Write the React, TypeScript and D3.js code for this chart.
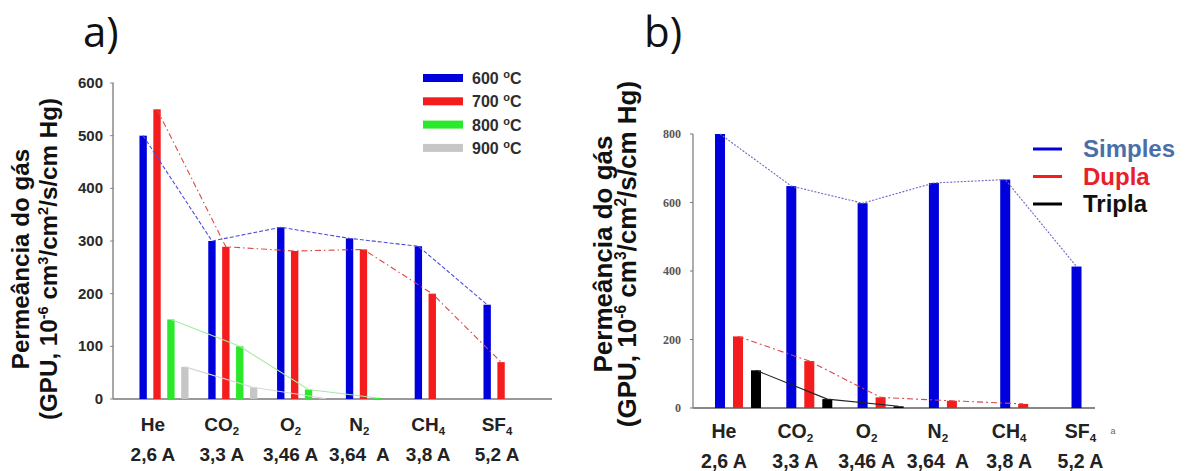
import React from "react";
import * as d3 from "d3";

// gases and kinetic diameters (shared by both panels)
const gases = ["He", "CO2", "O2", "N2", "CH4", "SF4"];
const diameters = ["2,6 A", "3,3 A", "3,46 A", "3,64  A", "3,8 A", "5,2 A"];

// panel a) - permeance by calcination temperature
const tempsA = ["600", "700", "800", "900"];
const perm600 = [500, 300, 326, 305, 290, 179];
const perm700 = [550, 289, 281, 284, 200, 70];
const perm800 = [151, 100, 18, 2, 0, 0];
const perm900 = [61, 22, 2, 0, 0, 0];
const ticksA = [0, 100, 200, 300, 400, 500, 600];

// panel b) - permeance by layer count
const layersB = ["Simples", "Dupla", "Tripla"];
const simples = [800, 648, 598, 657, 667, 413];
const dupla = [209, 137, 31, 21, 12, 0];
const tripla = [110, 26, 5, 0, 0, 0];
const ticksB = [0, 200, 400, 600, 800];

const colorsA = ["#0000dc", "#f41c1c", "#2ae82a", "#c6c6c6"];
const lineColorsA = ["#4d4de0", "#e04848", "#a4eaa4", "#d6d6d6"];
const dashA = ["4,2", "6,3,1.5,3", null, null];

const colorsB = ["#0000dc", "#f41c1c", "#000000"];
const lineColorsB = ["#6a6ac8", "#d84848", "#222222"];
const dashB = ["2,1.5", "6,3,2,3", null];
const legendTextB = ["#4a6fa8", "#e8202a", "#111111"];

const SANS = "'Liberation Sans', Arial, sans-serif";

function Formula({ name, size }: { name: string; size: number }) {
  const m = name.match(/^([A-Za-z]+)(\d*)$/);
  const base = m ? m[1] : name;
  const sub = m ? m[2] : "";
  return (
    <>
      {base}
      {sub && (
        <tspan fontSize={size * 0.6} dy={4}>
          {sub}
        </tspan>
      )}
    </>
  );
}

function YLabel({ x1, x2, cy, size }: { x1: number; x2: number; cy: number; size: number }) {
  const sup = size * 0.6;
  const up = -size * 0.38;
  return (
    <g fontFamily={SANS} fontWeight="bold" fontSize={size} fill="#111">
      <text transform={`translate(${x1},${cy}) rotate(-90)`} textAnchor="middle">
        Permeância do gás
      </text>
      <text transform={`translate(${x2},${cy}) rotate(-90)`} textAnchor="middle">
        (GPU, 10
        <tspan fontSize={sup} dy={up}>-6</tspan>
        <tspan dy={-up}> cm</tspan>
        <tspan fontSize={sup} dy={up}>3</tspan>
        <tspan dy={-up}>/cm</tspan>
        <tspan fontSize={sup} dy={up}>2</tspan>
        <tspan dy={-up}>/s/cm Hg)</tspan>
      </text>
    </g>
  );
}

function PanelA() {
  const series = [perm600, perm700, perm800, perm900];
  const y = d3.scaleLinear().domain([0, 600]).range([399, 83]);
  const x0 = d3.scaleBand().domain(gases).range([113, 559]).paddingInner(0.186).paddingOuter(0.334);
  const x1 = d3.scaleBand().domain(tempsA).range([0, x0.bandwidth()]).paddingInner(0.47).paddingOuter(0.25);
  const cx = (g: string, t: string) => (x0(g) as number) + (x1(t) as number) + x1.bandwidth() / 2;

  const line = d3
    .line<[number, number]>()
    .x((d) => d[0])
    .y((d) => d[1]);

  return (
    <g>
      <text x={83} y={47} fontFamily="'Open Sans', sans-serif" fontSize={42} fill="#111">
        a)
      </text>
      <YLabel x1={29} x2={57} cy={259} size={24.2} />

      {/* axes */}
      <line x1={113} x2={113} y1={y(600)} y2={y(0)} stroke="#8a8a8a" strokeWidth={1.5} />
      <line x1={113} x2={552} y1={y(0)} y2={y(0)} stroke="#999" strokeWidth={2} />
      {ticksA.map((t) => (
        <g key={t}>
          <line x1={110} x2={114} y1={y(t)} y2={y(t)} stroke="#8a8a8a" />
          <text x={103} y={y(t) + 5} textAnchor="end" fontFamily={SANS} fontWeight="bold" fontSize={15} fill="#2a2a2a">
            {t}
          </text>
        </g>
      ))}

      {/* bars */}
      {series.map((vals, si) =>
        vals.map((v, gi) =>
          v > 0 ? (
            <rect
              key={`${si}-${gi}`}
              x={(x0(gases[gi]) as number) + (x1(tempsA[si]) as number)}
              y={y(v)}
              width={x1.bandwidth()}
              height={y(0) - y(v)}
              fill={colorsA[si]}
            />
          ) : null
        )
      )}

      {/* trend lines */}
      {series.map((vals, si) => {
        const pts = vals
          .map((v, gi) => [cx(gases[gi], tempsA[si]), y(v), v] as [number, number, number])
          .filter((p) => p[2] > 0)
          .map((p) => [p[0], p[1]] as [number, number]);
        return (
          <path
            key={si}
            d={line(pts) || ""}
            fill="none"
            stroke={lineColorsA[si]}
            strokeWidth={1.1}
            strokeDasharray={dashA[si] || undefined}
          />
        );
      })}

      {/* x labels */}
      {gases.map((g, i) => (
        <g key={g} fontFamily={SANS} fontWeight="bold" fill="#222" textAnchor="middle">
          <text x={(x0(g) as number) + 17} y={431} fontSize={19}>
            <Formula name={g} size={19} />
          </text>
          <text x={(x0(g) as number) + 17} y={461} fontSize={19} style={{ whiteSpace: "pre" }}>
            {diameters[i]}
          </text>
        </g>
      ))}

      {/* legend */}
      {tempsA.map((t, i) => (
        <g key={t} transform={`translate(423,${78 + i * 23.3})`}>
          <rect x={0} y={-4} width={40} height={8} fill={colorsA[i]} />
          <text x={49} y={6} fontFamily={SANS} fontWeight="bold" fontSize={16} fill="#2e2e2e">
            {t}{" "}
            <tspan fontSize={11} dy={-6}>o</tspan>
            <tspan dy={6}>C</tspan>
          </text>
        </g>
      ))}
    </g>
  );
}

function PanelB() {
  const series = [simples, dupla, tripla];
  const y = d3.scaleLinear().domain([0, 800]).range([408, 134]);
  const x0 = d3.scaleBand().domain(gases).range([693, 1139.5]).paddingInner(0.243).paddingOuter(0.2525);
  const x1 = d3.scaleBand().domain(layersB).range([0, x0.bandwidth()]).paddingInner(0.444).paddingOuter(0.222);
  const cx = (g: string, l: string) => (x0(g) as number) + (x1(l) as number) + x1.bandwidth() / 2;

  const line = d3
    .line<[number, number]>()
    .x((d) => d[0])
    .y((d) => d[1]);

  return (
    <g>
      <text x={644} y={47} fontFamily="'Open Sans', sans-serif" fontSize={42} fill="#111">
        b)
      </text>
      <YLabel x1={612} x2={636} cy={254} size={26} />

      {/* axes */}
      <line x1={693} x2={693} y1={y(800)} y2={y(0)} stroke="#777" strokeWidth={1.2} />
      <line x1={693} x2={1095} y1={y(0)} y2={y(0)} stroke="#888" strokeWidth={1.8} />
      {ticksB.map((t) => (
        <g key={t}>
          <line x1={690} x2={693} y1={y(t)} y2={y(t)} stroke="#777" />
          <text
            x={681}
            y={y(t) + 4}
            textAnchor="end"
            fontFamily="'Liberation Serif', 'Times New Roman', serif"
            fontWeight="bold"
            fontSize={12}
            fill="#555"
          >
            {t}
          </text>
        </g>
      ))}

      {/* bars */}
      {series.map((vals, si) =>
        vals.map((v, gi) =>
          v > 0 ? (
            <rect
              key={`${si}-${gi}`}
              x={(x0(gases[gi]) as number) + (x1(layersB[si]) as number)}
              y={y(v)}
              width={x1.bandwidth()}
              height={y(0) - y(v)}
              fill={colorsB[si]}
            />
          ) : null
        )
      )}

      {/* trend lines */}
      {series.map((vals, si) => {
        const pts = vals
          .map((v, gi) => [cx(gases[gi], layersB[si]), y(v), v] as [number, number, number])
          .filter((p) => p[2] > 0)
          .map((p) => [p[0], p[1]] as [number, number]);
        return (
          <path
            key={si}
            d={line(pts) || ""}
            fill="none"
            stroke={lineColorsB[si]}
            strokeWidth={1.1}
            strokeDasharray={dashB[si] || undefined}
          />
        );
      })}

      {/* x labels */}
      {gases.map((g, i) => (
        <g key={g} fontFamily={SANS} fontWeight="bold" fill="#222" textAnchor="middle">
          <text x={(x0(g) as number) + 13} y={438} fontSize={19.5}>
            <Formula name={g} size={19.5} />
          </text>
          <text x={(x0(g) as number) + 13} y={468} fontSize={19.5} style={{ whiteSpace: "pre" }}>
            {diameters[i]}
          </text>
        </g>
      ))}
      <text x={1113} y={434} fontFamily={SANS} fontSize={9} fill="#666" textAnchor="middle">
        a
      </text>

      {/* legend */}
      {layersB.map((l, i) => (
        <g key={l} transform={`translate(1033,${149 + i * 27.5})`}>
          <line x1={0} x2={29} y1={0} y2={0} stroke={colorsB[i]} strokeWidth={3} />
          <text x={50} y={8} fontFamily={SANS} fontWeight="bold" fontSize={24} fill={legendTextB[i]}>
            {l}
          </text>
        </g>
      ))}
    </g>
  );
}

export default function App() {
  return (
    <div style={{ position: "absolute", left: 0, top: 0 }}>
      <svg width={1190} height={471} viewBox="0 0 1190 471" style={{ display: "block", background: "#fff" }}>
        <PanelA />
        <PanelB />
      </svg>
    </div>
  );
}
